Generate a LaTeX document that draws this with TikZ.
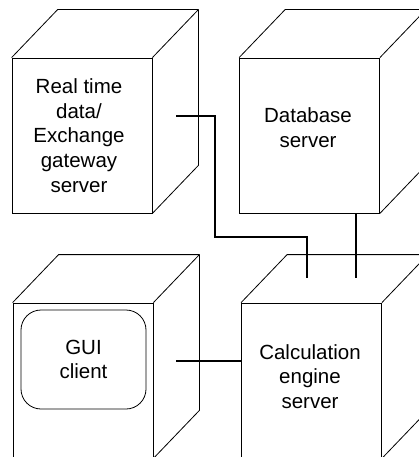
\documentclass[tikz,border=0pt]{standalone}
\usepackage{fontspec}
\setmainfont{Liberation Sans}
\usetikzlibrary{calc,positioning}
\tikzset{
	face/.style={draw, line width=0.8pt, minimum width=140pt, minimum height=155pt, inner sep=0pt},
	screen/.style={draw, line width=0.8pt, rounded corners=20pt, minimum width=125pt, minimum height=99pt},
	lbl/.style={align=center, font=\fontsize{20.5}{24.6}\selectfont},
	edge/.style={line width=0.8pt, line join=round},
	link/.style={line width=2pt}
}
\newcommand{\cube}[1]{%
	\draw[edge] (#1.north west) -- ++(46,-48) -| ($(#1.south east)+(46,-48)$) -- (#1.south east);
	\draw[edge] (#1.north east) -- ++(46,-48);
}
\begin{document}
\begin{tikzpicture}[x=1pt, y=-1pt]
			\clip (0,0) rectangle (419,457);
			\fill[white] (0,0) rectangle (419,457);

			\node[face] (rt) at (82, 135.5) {};
			\node[face] (db) at (309.5, 135.5) {};
			\node[face] (gui) at (83, 380.5) {};
			\node[face] (calc) at (311.5, 380.5) {};
			\cube{rt} \cube{db} \cube{gui} \cube{calc}

			\node[lbl] (rtlabel) at ($(rt)+(-3,0)$) {Real time\\data/\\Exchange\\gateway\\server};
			\node[lbl] (dblabel) at ($(db)+(-1.5,-8)$) {Database\\server};
			\node[screen, lbl] (guiscreen) at ($(gui)+(0.5,-21)$) {GUI\\client};
			\node[lbl] (calclabel) at ($(calc)+(-1.5,-4)$) {Calculation\\engine\\server};

			\coordinate (rtport) at ($(rt.east)+(24,-19.5)$);
			\coordinate (guiport) at ($(gui.east)+(23,-19.5)$);
			\coordinate (calcin1) at ($(calc.north)+(-4.5,-25)$);
			\coordinate (calcin2) at ($(calc.north)+(44.5,-25)$);

			\draw[link] (rtport) -- ++(39,0) -- ++(0,121) -| (calcin1);
			\draw[link] (calcin2 |- db.south) -- (calcin2);
			\draw[link] (guiport) -- (guiport -| calc.west);
		\end{tikzpicture}
\end{document}
